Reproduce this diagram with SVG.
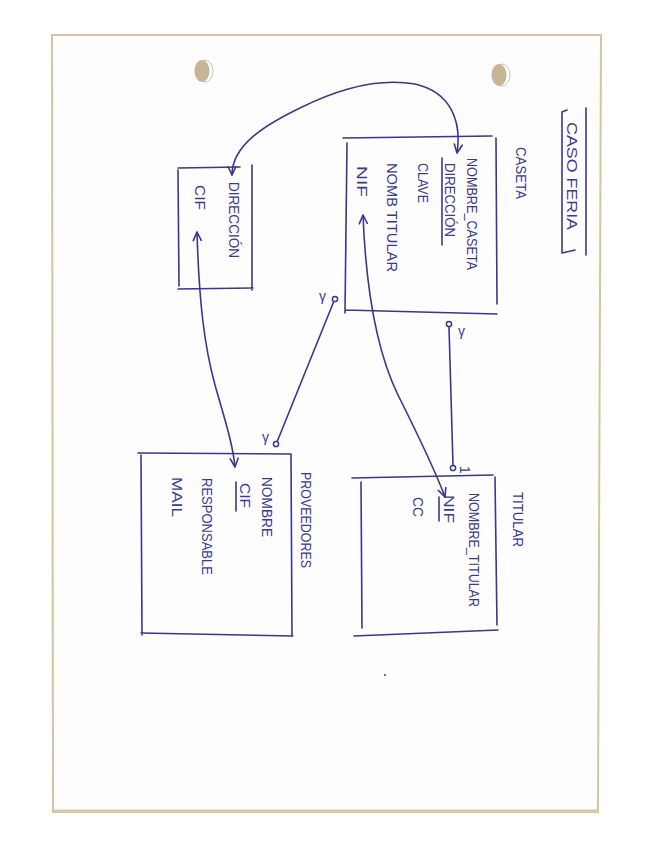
<svg xmlns="http://www.w3.org/2000/svg" width="655" height="848" viewBox="0 0 655 848">
<style>
.ink{fill:none;stroke:#38388c;stroke-width:1.6;stroke-linecap:round;stroke-linejoin:round}
.t{font-family:"Liberation Sans",Arial,sans-serif;font-size:15px;fill:#3a3a90}
.s{font-family:"Liberation Sans",Arial,sans-serif;font-size:14px;fill:#3a3a90}
.dot{fill:#ffffff;stroke:#38388c;stroke-width:1.5}
.hole{fill:#c6b697}
.rim{fill:#ffffff;stroke:#b9b1a0;stroke-width:0.8}
</style>
<defs>
<marker id="arr" viewBox="0 0 10 10" refX="9.5" refY="5" markerWidth="10" markerHeight="10" markerUnits="userSpaceOnUse" orient="auto-start-reverse">
<path d="M1,1 L9.5,5 L1,9" fill="none" stroke="#38388c" stroke-width="1.6" stroke-linecap="round" stroke-linejoin="round"/>
</marker>
</defs>
<rect x="0" y="0" width="655" height="848" fill="#ffffff"/>
<g id="paper">
<polygon points="52,35 601,35 598,812 53,812" fill="#fdfdfd" stroke="#d4c4a1" stroke-width="2"/>
<path d="M53,811 L598,811" stroke="#d8c8a6" stroke-width="3"/>
<ellipse class="rim" cx="205" cy="71" rx="8" ry="11"/>
<ellipse class="hole" cx="202" cy="71" rx="7.5" ry="11"/>
<ellipse class="rim" cx="502" cy="75" rx="8" ry="11"/>
<ellipse class="hole" cx="499" cy="75" rx="7.5" ry="11"/>
<rect x="384" y="674" width="2" height="2" fill="#6a6ab0"/>
</g>
<g id="title">
<path class="ink" d="M567,110 L562,112 L562,253 L575,250 M586,108 L586,255"/>
<text class="s" transform="translate(567,122) rotate(90)" textLength="108" lengthAdjust="spacingAndGlyphs">CASO  FERIA</text>
</g>
<g id="caseta">
<path class="ink" d="M343,138 L492,136 M496,138 L497,304 M347,143 L345,313 M345,310 L497,314"/>
<text class="t" transform="translate(516,147) rotate(90)" textLength="52" lengthAdjust="spacingAndGlyphs">CASETA</text>
<text class="t" transform="translate(467,158) rotate(90)" textLength="112" lengthAdjust="spacingAndGlyphs">NOMBRE_CASETA</text>
<text class="t" transform="translate(445,163) rotate(90)" textLength="74" lengthAdjust="spacingAndGlyphs">DIRECCIÓN</text>
<path class="ink" d="M442,158 L442,245"/>
<text class="t" transform="translate(418,163) rotate(90)" textLength="40" lengthAdjust="spacingAndGlyphs">CLAVE</text>
<text class="t" transform="translate(387,163) rotate(90)" textLength="109" lengthAdjust="spacingAndGlyphs">NOMB TITULAR</text>
<text class="t" transform="translate(357,166) rotate(90)" textLength="31" lengthAdjust="spacingAndGlyphs">NIF</text>
</g>
<g id="direccion">
<path class="ink" d="M178,168 L240,167 M252,165 L252,290 M178,170 L179,286 M178,289 L253,288"/>
<text class="t" transform="translate(229,182) rotate(90)" textLength="76" lengthAdjust="spacingAndGlyphs">DIRECCIÓN</text>
<text class="t" transform="translate(195,185) rotate(90)" textLength="25" lengthAdjust="spacingAndGlyphs">CIF</text>
</g>
<g id="proveedores">
<path class="ink" d="M138,453 L291,454 M291,454 L292,636 M141,455 L142,635 M141,633 L293,636"/>
<text class="t" transform="translate(301,472) rotate(90)" textLength="96" lengthAdjust="spacingAndGlyphs">PROVEEDORES</text>
<text class="t" transform="translate(262,477) rotate(90)" textLength="60" lengthAdjust="spacingAndGlyphs">NOMBRE</text>
<text class="t" transform="translate(240,483) rotate(90)" textLength="25" lengthAdjust="spacingAndGlyphs">CIF</text>
<path class="ink" d="M236,482 L236,511"/>
<text class="t" transform="translate(202,478) rotate(90)" textLength="97" lengthAdjust="spacingAndGlyphs">RESPONSABLE</text>
<text class="t" transform="translate(172,477) rotate(90)" textLength="40" lengthAdjust="spacingAndGlyphs">MAIL</text>
</g>
<g id="titular">
<path class="ink" d="M352,478 L493,475 M495,477 L497,625 M361,482 L362,628 M354,636 L498,630"/>
<text class="t" transform="translate(513,492) rotate(90)" textLength="55" lengthAdjust="spacingAndGlyphs">TITULAR</text>
<text class="t" transform="translate(469,493) rotate(90)" textLength="114" lengthAdjust="spacingAndGlyphs">NOMBRE_TITULAR</text>
<text class="t" transform="translate(444,495) rotate(90)" textLength="28" lengthAdjust="spacingAndGlyphs">NIF</text>
<path class="ink" d="M439,497 L439,521"/>
<text class="t" transform="translate(413,497) rotate(90)" textLength="20" lengthAdjust="spacingAndGlyphs">CC</text>
</g>
<g id="connectors">
<path class="ink" d="M232,175 C232,145 265,125 300,108 C340,88 380,78 415,84 C450,92 462,120 457,153" marker-start="url(#arr)" marker-end="url(#arr)"/>
<path class="ink" d="M197,232 C199,300 204,345 215,385 C225,420 233,445 235,467" marker-start="url(#arr)" marker-end="url(#arr)"/>
<path class="ink" d="M363,215 C366,290 376,350 398,395 C418,435 435,470 445,497" marker-start="url(#arr)" marker-end="url(#arr)"/>
<path class="ink" d="M334,301 L277,442"/>
<circle class="dot" cx="335" cy="299" r="2.6"/>
<circle class="dot" cx="276" cy="444" r="2.6"/>
<path class="ink" d="M449,327 L453,465"/>
<circle class="dot" cx="449" cy="324" r="2.6"/>
<circle class="dot" cx="453" cy="468" r="2.6"/>
<text class="s" x="319" y="301">γ</text>
<text class="s" x="262" y="442">γ</text>
<text class="s" x="458" y="336">γ</text>
<text class="s" transform="translate(460,466) rotate(90)" font-size="12">1</text>
</g>
</svg>
